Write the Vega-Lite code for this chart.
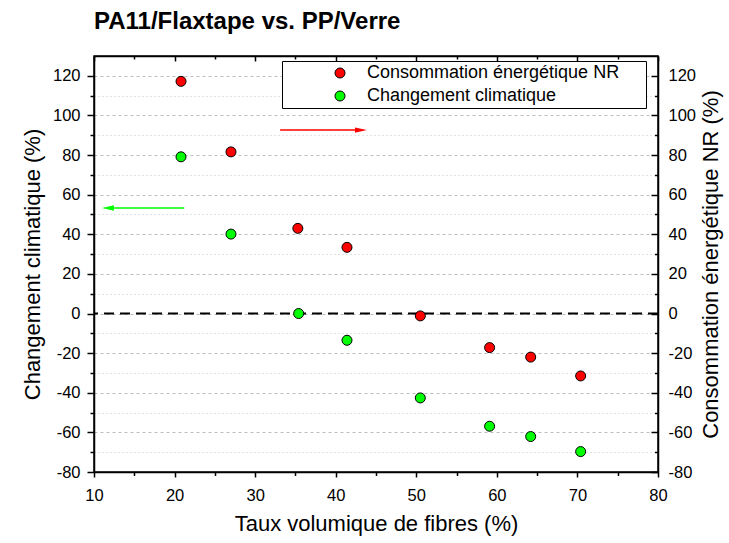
{
  "$schema": "https://vega.github.io/schema/vega-lite/v6.json",
  "width": 564,
  "height": 416,
  "autosize": {"type": "none"},
  "padding": {"left": 94, "top": 56, "right": 71, "bottom": 71},
  "background": "white",
  "config": {
    "font": "Liberation Sans",
    "view": {"stroke": "black", "strokeWidth": 1.5},
    "axis": {
      "domainColor": "black", "tickColor": "black", "labelColor": "black", "titleColor": "black",
      "labelFont": "Liberation Sans", "titleFont": "Liberation Sans",
      "labelFontSize": 16.5, "titleFontSize": 22, "titleFontWeight": "normal",
      "domainWidth": 1.5, "tickWidth": 1.5, "grid": false, "labelFlush": false,
      "labelExpr": "replace(datum.label, '\u2212', '-')"
    }
  },
  "title": {
    "text": "PA11/Flaxtape vs. PP/Verre", "anchor": "start", "frame": "group", "fontSize": 24, "fontWeight": "bold",
    "font": "Liberation Sans", "color": "black", "offset": 2, "baseline": "alphabetic"
  },
  "datasets": {
    "pts": [
      {"serie": "Consommation énergétique NR", "x": 20.8, "y": 117.2},
      {"serie": "Consommation énergétique NR", "x": 27.0, "y": 81.6},
      {"serie": "Consommation énergétique NR", "x": 35.3, "y": 43.0},
      {"serie": "Consommation énergétique NR", "x": 41.4, "y": 33.4},
      {"serie": "Consommation énergétique NR", "x": 50.5, "y": -1.2},
      {"serie": "Consommation énergétique NR", "x": 59.1, "y": -17.2},
      {"serie": "Consommation énergétique NR", "x": 64.2, "y": -22.0},
      {"serie": "Consommation énergétique NR", "x": 70.4, "y": -31.5},
      {"serie": "Changement climatique", "x": 20.8, "y": 79.1},
      {"serie": "Changement climatique", "x": 27.0, "y": 40.1},
      {"serie": "Changement climatique", "x": 35.4, "y": 0.0},
      {"serie": "Changement climatique", "x": 41.4, "y": -13.5},
      {"serie": "Changement climatique", "x": 50.5, "y": -42.6},
      {"serie": "Changement climatique", "x": 59.1, "y": -56.9},
      {"serie": "Changement climatique", "x": 64.2, "y": -62.1},
      {"serie": "Changement climatique", "x": 70.4, "y": -69.7}
    ],
    "zero": [{"y": 0}],
    "arrows": [
      {"serie": "Consommation énergétique NR", "x1": 33.1, "x2": 42.6, "y": 92.6, "head": 43.13, "dir": "right"},
      {"serie": "Changement climatique", "x1": 21.2, "x2": 11.6, "y": 53.3, "head": 11.74, "dir": "left"}
    ]
  },
  "layer": [
    {
      "data": {"name": "pts"},
      "mark": {"type": "point", "opacity": 0},
      "encoding": {
        "x": {"field": "x", "type": "quantitative", "scale": {"domain": [10, 80], "nice": false, "zero": false},
          "axis": {"orient": "bottom", "values": [15, 25, 35, 45, 55, 65, 75], "labels": false, "tickSize": 3.5, "domain": false, "title": null}},
        "y": {"field": "y", "type": "quantitative", "scale": {"domain": [-80, 130], "nice": false, "zero": false},
          "axis": {"orient": "left", "values": [-70, -50, -30, -10, 10, 30, 50, 70, 90, 110], "labels": false, "tickSize": 4, "domain": false, "title": null,
            "grid": true, "gridColor": "#c4c4c4", "gridDash": [1, 3], "gridWidth": 1}}
      }
    },
    {
      "data": {"name": "pts"},
      "mark": {"type": "point", "opacity": 0},
      "encoding": {
        "x": {"field": "x", "type": "quantitative", "scale": {"domain": [10, 80], "nice": false, "zero": false},
          "axis": {"orient": "bottom", "values": [10, 20, 30, 40, 50, 60, 70, 80], "tickSize": 5, "labelPadding": 10,
            "title": "Taux volumique de fibres (%)", "titlePadding": 10}},
        "y": {"field": "y", "type": "quantitative", "scale": {"domain": [-80, 130], "nice": false, "zero": false},
          "axis": {"orient": "left", "values": [-80, -60, -40, -20, 0, 20, 40, 60, 80, 100, 120], "tickSize": 7, "labelPadding": 7,
            "grid": true, "gridColor": "#bdbdbd", "gridDash": [3, 3], "gridWidth": 1,
            "title": "Changement climatique (%)", "titlePadding": 8}}
      }
    },
    {
      "data": {"name": "pts"},
      "mark": {"type": "point", "opacity": 0},
      "encoding": {
        "x": {"field": "x", "type": "quantitative", "scale": {"domain": [10, 80], "nice": false, "zero": false},
          "axis": {"orient": "top", "values": [10, 20, 30, 40, 50, 60, 70, 80], "labels": false, "tickSize": -5, "title": null}},
        "y": {"field": "y", "type": "quantitative", "scale": {"domain": [-80, 130], "nice": false, "zero": false},
          "axis": {"orient": "right", "values": [-80, -60, -40, -20, 0, 20, 40, 60, 80, 100, 120], "tickSize": -7, "labelPadding": 17,
            "title": "Consommation énergétique NR (%)", "titleAngle": 270, "titleBaseline": "top", "titlePadding": 5}}
      }
    },
    {
      "data": {"name": "pts"},
      "mark": {"type": "point", "opacity": 0},
      "encoding": {
        "x": {"field": "x", "type": "quantitative", "scale": {"domain": [10, 80], "nice": false, "zero": false},
          "axis": {"orient": "top", "values": [15, 25, 35, 45, 55, 65, 75], "labels": false, "tickSize": -3, "domain": false, "title": null}},
        "y": {"field": "y", "type": "quantitative", "scale": {"domain": [-80, 130], "nice": false, "zero": false},
          "axis": {"orient": "right", "values": [-70, -50, -30, -10, 10, 30, 50, 70, 90, 110], "labels": false, "tickSize": -3.5, "domain": false, "title": null}}
      }
    },
    {
      "data": {"name": "zero"},
      "mark": {"type": "rule", "color": "black", "strokeWidth": 2, "strokeDash": [10, 6]},
      "encoding": {
        "y": {"field": "y", "type": "quantitative", "scale": {"domain": [-80, 130], "nice": false, "zero": false}, "axis": null}
      }
    },
    {
      "data": {"name": "arrows"},
      "transform": [{"filter": "datum.dir == 'right'"}],
      "mark": {"type": "rule", "strokeWidth": 1.5, "color": "#ff0000"},
      "encoding": {
        "x": {"field": "x1", "type": "quantitative", "scale": {"domain": [10, 80], "nice": false, "zero": false}, "axis": null},
        "x2": {"field": "x2"},
        "y": {"field": "y", "type": "quantitative", "scale": {"domain": [-80, 130], "nice": false, "zero": false}, "axis": null}
      }
    },
    {
      "data": {"name": "arrows"},
      "transform": [{"filter": "datum.dir == 'left'"}],
      "mark": {"type": "rule", "strokeWidth": 1.5, "color": "#00ff00"},
      "encoding": {
        "x": {"field": "x1", "type": "quantitative", "scale": {"domain": [10, 80], "nice": false, "zero": false}, "axis": null},
        "x2": {"field": "x2"},
        "y": {"field": "y", "type": "quantitative", "scale": {"domain": [-80, 130], "nice": false, "zero": false}, "axis": null}
      }
    },
    {
      "data": {"name": "arrows"},
      "transform": [{"filter": "datum.dir == 'right'"}],
      "mark": {"type": "point", "filled": true, "size": 144, "opacity": 1, "strokeWidth": 0, "color": "#ff0000",
        "shape": "M -1 -0.45 L 1 0 L -1 0.45 Z"},
      "encoding": {
        "x": {"field": "head", "type": "quantitative", "scale": {"domain": [10, 80], "nice": false, "zero": false}, "axis": null},
        "y": {"field": "y", "type": "quantitative", "scale": {"domain": [-80, 130], "nice": false, "zero": false}, "axis": null}
      }
    },
    {
      "data": {"name": "arrows"},
      "transform": [{"filter": "datum.dir == 'left'"}],
      "mark": {"type": "point", "filled": true, "size": 144, "opacity": 1, "strokeWidth": 0, "color": "#00ff00",
        "shape": "M 1 -0.45 L -1 0 L 1 0.45 Z"},
      "encoding": {
        "x": {"field": "head", "type": "quantitative", "scale": {"domain": [10, 80], "nice": false, "zero": false}, "axis": null},
        "y": {"field": "y", "type": "quantitative", "scale": {"domain": [-80, 130], "nice": false, "zero": false}, "axis": null}
      }
    },
    {
      "data": {"name": "pts"},
      "mark": {"type": "circle", "size": 100, "stroke": "black", "strokeWidth": 1, "opacity": 1},
      "encoding": {
        "x": {"field": "x", "type": "quantitative", "scale": {"domain": [10, 80], "nice": false, "zero": false}, "axis": null},
        "y": {"field": "y", "type": "quantitative", "scale": {"domain": [-80, 130], "nice": false, "zero": false}, "axis": null},
        "color": {"field": "serie", "type": "nominal",
          "scale": {"domain": ["Consommation énergétique NR", "Changement climatique"], "range": ["#ff0000", "#00ff00"]},
          "legend": {"orient": "none", "legendX": 188, "legendY": 5, "title": " ", "titleOrient": "right", "titlePadding": 24, "titleFontSize": 18,
            "padding": 3, "rowPadding": 5, "symbolOffset": 46, "labelOffset": 18, "labelFontSize": 18, "labelFont": "Liberation Sans",
            "labelColor": "black", "symbolSize": 100, "symbolType": "circle", "symbolStrokeColor": "black", "symbolStrokeWidth": 1,
            "symbolOpacity": 1, "fillColor": "white", "strokeColor": "black", "labelLimit": 400}}
      }
    }
  ],
  "resolve": {"axis": {"x": "independent", "y": "independent"}}
}
